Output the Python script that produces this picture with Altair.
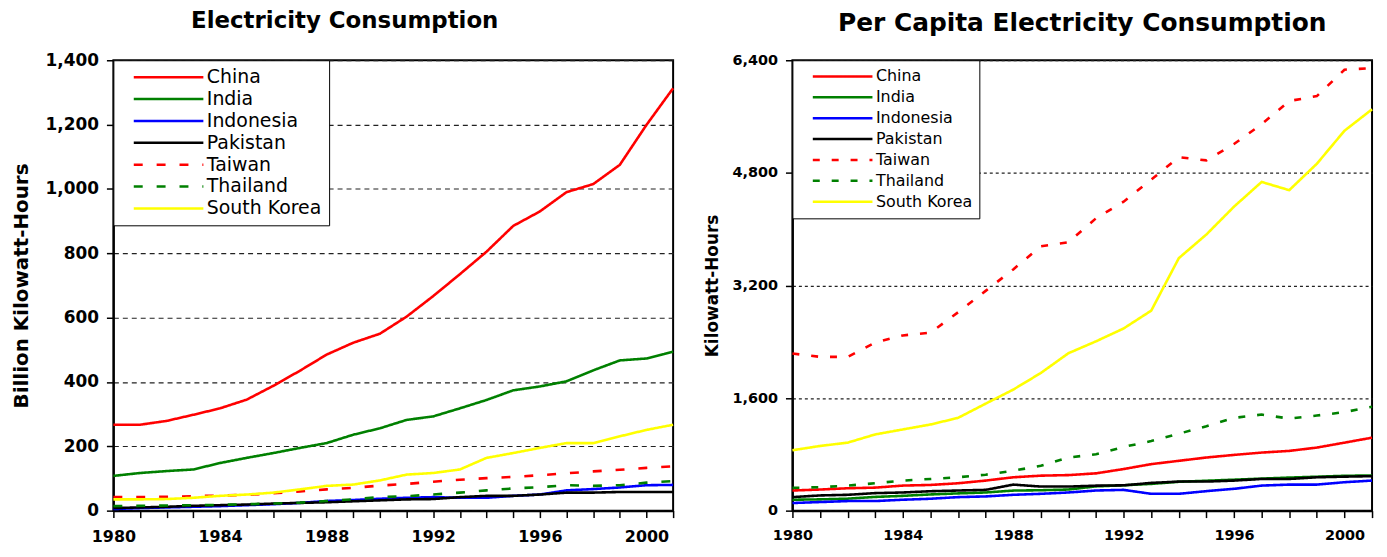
import altair as alt
import pandas as pd

years = list(range(1980, 2002))
countries = ["China", "India", "Indonesia", "Pakistan", "Taiwan", "Thailand", "South Korea"]
colors = ["#ff0000", "#008000", "#0000ff", "#000000", "#ff0000", "#008000", "#ffff00"]

# Electricity consumption, billion kWh
total_china = [267, 267, 279, 298, 318, 345, 388, 435, 485, 522, 550, 603, 667, 735, 805, 885, 930, 990, 1015, 1075, 1199, 1313]
total_india = [108, 117, 123, 128, 148, 164, 179, 195, 210, 236, 256, 282, 293, 318, 344, 374, 386, 402, 436, 467, 473, 494]
total_indonesia = [5, 8, 10, 12, 14, 17, 20, 24, 30, 33, 37, 40, 42, 40, 40, 46, 50, 63, 67, 72, 79, 80]
total_pakistan = [8, 10, 12, 15, 17, 19, 22, 24, 26, 29, 32, 35, 36, 42, 46, 46, 50, 56, 56, 58, 58, 58]
total_taiwan = [42, 42, 43, 45, 47, 49, 54, 60, 66, 71, 78, 83, 90, 96, 101, 105, 110, 116, 122, 127, 133, 138]
total_thailand = [14, 15, 16, 17, 18, 20, 22, 25, 30, 35, 42, 45, 50, 56, 63, 69, 73, 79, 77, 79, 87, 92]
total_korea = [35, 35, 36, 40, 46, 50, 56, 66, 77, 81, 94, 112, 117, 128, 164, 179, 195, 210, 210, 231, 251, 267]

# Per capita electricity consumption, kWh
pc_china = [286, 300, 318, 327, 356, 365, 389, 427, 474, 497, 505, 530, 591, 661, 708, 755, 792, 825, 849, 896, 966, 1037]
pc_india = [155, 160, 170, 195, 210, 230, 245, 258, 285, 290, 300, 345, 360, 380, 410, 425, 440, 455, 470, 482, 495, 500]
pc_indonesia = [108, 122, 136, 136, 155, 169, 192, 202, 225, 239, 258, 286, 295, 239, 239, 277, 310, 356, 370, 370, 404, 427]
pc_pakistan = [192, 216, 225, 249, 258, 276, 286, 295, 370, 342, 342, 355, 360, 394, 413, 413, 427, 450, 450, 474, 483, 490]
pc_taiwan = [2233, 2185, 2185, 2388, 2490, 2528, 2818, 3123, 3428, 3757, 3813, 4155, 4390, 4704, 5023, 4977, 5210, 5491, 5821, 5891, 6266, 6289]
pc_thailand = [324, 333, 356, 389, 427, 450, 474, 511, 567, 637, 755, 802, 905, 989, 1093, 1200, 1318, 1365, 1308, 1351, 1400, 1477]
pc_korea = [858, 919, 966, 1083, 1154, 1224, 1318, 1520, 1720, 1956, 2237, 2406, 2589, 2842, 3588, 3925, 4320, 4671, 4554, 4929, 5398, 5703]

total_series = [total_china, total_india, total_indonesia, total_pakistan, total_taiwan, total_thailand, total_korea]
pc_series = [pc_china, pc_india, pc_indonesia, pc_pakistan, pc_taiwan, pc_thailand, pc_korea]

FONT = "DejaVu Sans"


def make_df(series):
    rows = []
    for i, (c, vals) in enumerate(zip(countries, series)):
        for y, v in zip(years, vals):
            rows.append({"Year": y, "Country": c, "Value": v, "k": i})
    return pd.DataFrame(rows)


def panel(series, title, ytitle, ymax, yvals, w, h, lab_fs, xlab_fs, ytitle_fs, ytitle_pad, leg_fs,
          sym_len, clip_h, title_frame, title_fs, title_offset, grid_dash, dash):
    df = make_df(series)
    leg = alt.Legend(
        title=None, orient="top-left", offset=0, padding=7,
        symbolType="stroke", symbolSize=sym_len * sym_len, symbolStrokeWidth=2.5,
        clipHeight=clip_h, rowPadding=2,
        labelFont=FONT, labelFontSize=leg_fs, labelColor="black",
        labelOffset=2, symbolOffset=12, labelLimit=400,
        strokeColor="black", fillColor="white",
    )
    dashes = [[1, 0], [1, 0], [1, 0], [1, 0], dash, dash, [1, 0]]
    chart = alt.Chart(df).mark_line(strokeWidth=2.6).encode(
        x=alt.X("Year:Q",
                scale=alt.Scale(domain=[1980, 2001], nice=False, zero=False),
                axis=alt.Axis(values=years, title=None, grid=False, format="d",
                              labelExpr="datum.value % 4 == 0 ? datum.label : ''",
                              labelFont=FONT, labelFontWeight="bold", labelFontSize=xlab_fs,
                              labelColor="black", labelPadding=11, tickSize=7, tickWidth=1.5,
                              tickColor="black", domainColor="black", domainWidth=2,
                              labelFlush=False, labelOverlap=False)),
        y=alt.Y("Value:Q",
                scale=alt.Scale(domain=[0, ymax], nice=False),
                axis=alt.Axis(values=yvals, format=",.0f", title=ytitle,
                              titleFont=FONT, titleFontWeight="bold", titleFontSize=ytitle_fs,
                              titleColor="black", titlePadding=ytitle_pad,
                              labelFont=FONT, labelFontWeight="bold", labelFontSize=lab_fs,
                              labelColor="black", labelPadding=8, tickSize=7, tickWidth=1.5,
                              tickColor="black", domainColor="black", domainWidth=2,
                              grid=True, gridColor="#222222", gridDash=grid_dash, gridWidth=1.2)),
        color=alt.Color("Country:N", sort=countries,
                        scale=alt.Scale(domain=countries, range=colors), legend=leg),
        strokeDash=alt.StrokeDash("Country:N", sort=countries,
                                  scale=alt.Scale(domain=countries, range=dashes), legend=leg),
        order=alt.Order("k:Q"),
    ).properties(
        width=w, height=h,
        title=alt.Title(title, font=FONT, fontSize=title_fs, fontWeight="bold", color="black",
                        anchor="middle", frame=title_frame, offset=title_offset),
    )
    return chart


left = panel(total_series, "Electricity Consumption", "Billion Kilowatt-Hours", 1400,
             [0, 200, 400, 600, 800, 1000, 1200, 1400], 563, 453, 17, 16, 20, 14, 19,
             70, 20, "bounds", 23, 18, [5, 4], [9, 14])
right = panel(pc_series, "Per Capita Electricity Consumption", "Kilowatt-Hours", 6400,
              [0, 1600, 3200, 4800, 6400], 583, 453, 14.5, 14.5, 17, 10, 16,
              60, 18.5, "group", 25, 16, [3, 3], [7, 12])

chart = alt.hconcat(left, right, spacing=23).resolve_scale(
    x="independent", y="independent", color="independent", strokeDash="independent"
).resolve_legend(color="independent", strokeDash="independent").configure_view(
    stroke="black", strokeWidth=2
).properties(padding={"left": 2, "top": 0, "right": 0, "bottom": 0}, background="white")

chart.save("out.html", embed_options={"renderer": "svg", "actions": False})
